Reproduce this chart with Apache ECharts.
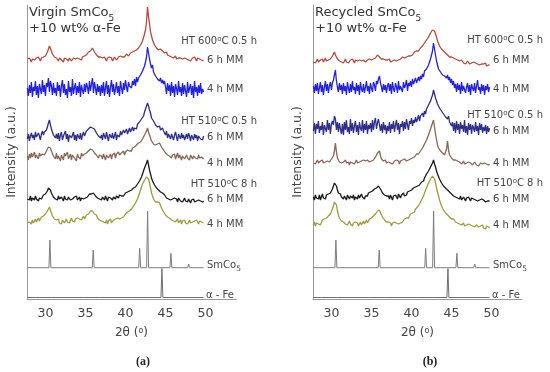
<!DOCTYPE html>
<html><head><meta charset="utf-8">
<script src="https://cdn.jsdelivr.net/npm/echarts@6/dist/echarts.min.js"></script>
<style>html,body{margin:0;padding:0;background:#fff}#c{width:550px;height:372px}</style>
</head><body><div id="c"></div><script>
// 2theta sampling positions (degrees)
const twoTheta = [
27.75,27.875,28,28.125,28.25,28.375,28.5,28.625,28.75,28.875,29,29.125,29.25,29.375,29.5,29.625,29.75,29.875,30,30.125,
30.25,30.375,30.5,30.625,30.75,30.875,31,31.125,31.25,
31.375,31.5,31.625,31.75,31.875,32,32.125,32.25,32.375,32.5,32.625,32.75,32.875,33,33.125,33.25,33.375,33.5,33.625,33.75,33.875,34,34.125,34.25,34.375,34.5,34.625,34.75,34.875,
35,35.125,35.25,35.375,35.5,35.625,35.75,35.875,36,36.125,36.25,36.375,36.5,36.625,36.75,36.875,37,
37.125,37.25,37.375,37.5,37.625,37.75,37.875,38,38.125,38.25,38.375,38.5,38.625,38.75,38.875,39,39.125,39.25,39.375,39.5,39.625,39.75,39.875,40,40.125,40.25,40.375,40.5,40.625,
40.75,40.875,41,41.125,41.25,41.375,41.5,41.625,41.75,41.875,42,42.125,42.25,42.375,42.5,42.625,42.75,42.875,43,43.125,43.25,43.375,43.5,43.625,43.75,43.875,44,44.125,44.25,44.375,44.5,44.625,44.75,
44.875,45,45.125,45.25,45.375,45.5,45.625,45.75,45.875,46,46.125,46.25,46.375,46.5,46.625,46.75,46.875,47,47.125,47.25,47.375,47.5,47.625,47.75,47.875,48,48.125,48.25,48.375,48.5,48.625,48.75,48.875,49,49.125,49.25,49.375,49.5,49.625,49.75];
const xTicks = [30, 35, 40, 45, 50];

// Panel (a) Virgin SmCo5 + 10 wt% a-Fe : intensity (a.u.) above each pattern's own baseline
const virginHT600_6h = [
1,-1,2,0,-2,1,3,0,-1,2,0,3,1,-1,2,4,3,5,4,6,
8,11,14,12,9,6,4,3,1,
2,0,-1,2,3,0,1,-2,2,0,1,3,-1,2,1,-1,0,2,3,1,-1,2,4,1,2,0,3,2,4,
3,5,6,8,7,9,11,12,10,8,7,5,4,3,2,3,1,
2,0,3,1,-1,2,0,3,1,2,-1,1,3,2,0,1,3,2,4,2,3,5,3,4,6,5,4,6,7,
6,8,7,9,8,10,9,12,13,15,16,19,21,26,30,38,53,44,36,28,24,20,18,15,14,12,11,10,12,11,10,9,8,
7,6,8,5,6,4,5,3,4,2,3,4,1,3,2,0,2,3,1,-1,2,0,1,3,0,2,-1,1,2,0,3,1,-1,2,0,1,-1,0,1,-1];
const virginHT600_4h = [
2,-6,5,-3,8,-7,3,-1,9,-5,4,-8,6,1,-4,10,-2,5,-6,7,
3,12,-2,9,4,-5,7,-3,2,
-6,8,-1,5,-7,4,10,-3,6,-5,1,-8,9,-2,3,-6,11,-4,2,7,-5,4,-3,8,-7,5,0,-4,6,
-2,7,3,-4,9,-1,6,12,-3,8,2,-5,6,-2,4,-6,5,
-3,8,-6,2,9,-4,5,-7,3,10,-2,6,-5,1,8,-3,4,-6,9,2,-4,7,0,10,3,-2,8,4,6,
2,9,5,11,4,13,8,12,10,15,14,19,17,24,28,33,43,37,31,26,22,25,18,20,14,16,11,13,9,12,7,10,6,
9,3,-4,7,-1,5,-6,8,-3,4,-7,6,1,-5,9,-2,3,-6,7,-4,5,-1,-7,8,-3,2,6,-5,4,-8,9,-2,3,-6,5,-3,7,-4,1,-2];
const virginHT510s_6h = [
-2,3,-4,1,4,-1,2,-3,5,0,-2,4,1,-3,3,6,2,5,3,7,
10,14,17,12,8,5,2,4,-1,
3,-2,4,-4,2,5,-3,1,-1,6,-2,3,-5,2,4,-1,0,5,-3,2,-4,3,1,-2,4,-3,2,5,1,
3,6,4,8,7,10,12,9,11,8,6,4,5,1,3,-1,2,
-3,4,1,-2,5,0,-4,3,2,-1,4,-2,1,5,-3,2,4,0,6,2,3,7,4,5,8,3,6,9,5,
7,10,6,9,11,8,13,12,15,14,18,17,21,25,28,30,34,31,27,24,19,20,16,15,12,13,10,9,11,7,8,9,6,
5,2,6,-1,3,4,-2,3,1,-3,2,5,0,-4,3,1,-2,4,-1,2,-3,0,3,-2,4,1,-4,2,0,-3,3,-1,2,-4,1,3,-2,0,-3,1];
const virginHT510s_4h = [
1,-3,3,-1,4,0,-2,5,-1,2,3,-2,4,1,-1,3,5,2,4,6,
7,10,12,9,6,4,1,3,-2,
4,-2,1,3,-4,2,0,-3,4,1,-1,5,-2,0,3,-3,2,4,-1,1,-4,3,0,2,-2,4,1,-1,3,
1,4,3,6,5,8,9,7,6,4,5,2,3,-1,2,4,1,
-2,3,0,-3,2,4,-1,1,3,-2,2,0,4,-1,3,1,5,2,0,4,3,6,2,5,4,7,5,6,8,
6,9,7,10,8,12,11,14,13,15,16,18,20,22,24,26,29,25,22,19,16,15,13,14,12,11,13,15,14,12,10,8,7,
6,4,5,2,4,1,3,-1,2,0,3,-2,1,4,-1,2,0,-3,1,3,-2,0,2,-1,1,-3,2,0,-2,1,3,-1,0,-2,2,-1,-3,0,1,-2];
const virginHT510l_6h = [
0,2,-1,3,-2,1,2,-1,3,0,2,-2,1,3,0,2,4,3,5,6,
8,11,12,9,6,4,2,3,0,
2,-1,3,0,-2,2,1,-2,3,0,1,-1,2,3,-1,1,0,-2,2,1,3,-1,0,2,-2,1,3,0,2,
1,3,2,4,5,6,5,7,6,4,3,2,1,3,0,2,-1,
2,0,-1,3,1,-2,2,0,1,3,-1,2,1,0,3,2,1,4,2,3,5,3,4,6,5,7,6,8,7,
9,8,11,10,12,13,15,16,18,20,22,25,28,31,33,36,39,34,29,25,21,18,16,14,12,11,10,9,8,7,6,6,5,
4,3,1,2,0,2,-1,1,0,-2,1,-1,0,-3,1,-1,-2,0,-3,-1,1,-2,-1,-3,0,-2,-4,-1,-2,0,-3,-1,-2,-4,-1,-3,-2,0,-3,-2];
const virginHT510l_4h = [
0,-2,1,2,-1,3,0,2,4,1,3,5,2,4,6,5,7,6,9,10,
12,14,16,13,10,7,5,4,2,
3,1,4,0,2,-1,3,1,0,2,4,1,3,0,2,5,2,3,1,4,2,5,3,4,6,3,5,7,4,
6,8,7,9,10,12,11,12,10,9,7,8,5,4,3,5,2,
3,1,2,0,3,-1,2,1,4,0,2,3,1,4,2,5,3,4,6,5,7,6,8,9,8,11,10,12,13,
14,15,17,18,20,22,24,27,30,33,36,39,41,43,45,46,48,44,40,35,30,27,24,22,21,20,21,22,20,18,15,13,11,
10,8,9,6,7,5,6,3,5,2,4,1,3,4,0,2,3,-1,2,1,3,0,2,-1,1,3,0,2,1,-1,2,0,3,1,-1,2,0,1,-1,0];

// Panel (b) Recycled SmCo5 + 10 wt% a-Fe
const recycHT600_6h = [
0,2,-1,1,3,0,-1,2,1,3,0,2,4,1,3,2,4,3,5,6,
8,10,7,5,3,2,1,3,0,
2,-1,1,3,0,2,-1,1,2,0,3,1,-1,2,0,1,3,2,0,1,-1,2,3,0,1,2,0,3,1,
2,4,3,5,4,6,7,6,5,4,3,2,3,1,2,0,2,
1,3,0,2,1,-1,2,4,1,3,2,4,3,2,5,3,4,6,5,4,6,7,6,8,7,9,10,9,11,
12,11,13,14,15,16,17,19,20,22,23,25,27,29,30,32,34,31,28,25,21,19,16,14,13,12,11,10,9,8,7,6,5,
4,5,3,4,2,3,1,2,0,1,-1,2,0,-1,1,-2,0,1,-1,-2,0,-1,-3,0,-2,-1,-3,-2,0,-3,-1,-2,-4,-2,-3,-1,-4,-2,-3,-3];
const recycHT600_4h = [
3,-4,5,-2,6,-5,1,7,-3,4,-6,2,8,-2,5,-4,3,7,-1,6,
9,14,19,8,2,-3,6,-1,4,
-5,6,-2,3,-6,7,1,-4,5,-3,8,-1,2,-5,6,-2,4,-6,7,0,-3,5,-4,2,8,-2,3,-5,6,
1,-3,7,4,-2,8,5,10,13,6,2,-3,5,-1,4,-4,3,
6,-2,5,-5,7,0,-3,6,2,-4,8,-1,3,5,-3,7,1,4,9,-2,6,3,8,2,10,5,7,11,6,
9,12,8,13,10,15,12,18,16,20,19,24,26,30,34,38,46,40,34,28,24,20,22,17,19,14,16,13,15,11,14,9,12,
6,10,4,8,1,5,-3,6,-1,4,-5,7,-2,3,5,-4,2,6,-3,4,-6,5,1,-2,6,-4,3,9,-1,2,-5,5,-2,4,-6,3,-1,5,-3,2];
const recycHT510s_6h = [
-3,5,-6,4,-1,7,-5,2,-2,6,-7,3,1,-4,8,-2,5,-6,4,7,
3,12,9,-2,6,-4,5,-1,-6,
4,-7,6,-2,8,-4,1,-6,9,-3,5,-5,2,7,-4,3,-7,6,0,-3,8,-5,4,-2,7,-6,3,-1,5,
-4,8,-2,6,10,-1,5,9,7,-3,4,-5,6,-2,3,-6,2,
-3,6,-5,4,-1,7,-4,3,8,-2,5,-6,4,1,7,-3,6,-1,9,3,-2,7,4,10,2,8,5,11,6,
9,13,7,12,10,15,11,17,14,19,18,23,22,27,29,33,38,34,30,27,24,26,20,22,17,19,14,16,11,13,9,12,6,
8,2,6,-3,5,-5,7,-2,4,-6,6,-1,3,-4,8,-5,2,-7,5,-2,4,-6,3,0,-4,6,-3,2,-7,5,-2,4,-5,1,-3,3,-6,2,-4,0];
const recycHT510s_4h = [
0,2,-1,1,3,0,-1,2,1,3,0,2,1,-1,2,3,1,2,4,5,
7,12,20,11,5,3,1,2,0,
2,1,-1,3,0,2,1,-2,1,3,0,2,-1,1,3,0,2,1,-1,2,0,3,1,2,0,3,2,1,3,
2,4,3,5,6,8,10,11,12,7,4,3,2,1,3,0,2,
1,3,0,2,-1,1,2,0,3,1,2,-1,2,1,3,2,4,3,2,4,3,5,4,6,5,7,6,8,9,
10,9,11,12,14,15,17,19,21,23,25,28,31,34,37,40,43,36,29,23,18,15,13,12,11,10,9,8,9,14,22,13,8,
6,5,4,3,2,3,1,2,0,1,3,-1,0,2,-1,1,0,-2,1,-1,0,2,-2,0,1,-1,-2,0,-3,-1,0,-2,-1,-3,0,-2,-1,-3,-2,-1];
const recycHT510l_6h = [
1,-2,3,0,2,-1,3,-2,1,4,0,2,-1,3,1,4,2,5,7,9,
12,15,17,12,8,5,3,4,1,
3,-1,2,0,-2,3,1,-1,2,4,0,3,-2,1,2,-1,3,0,2,4,1,3,-1,2,4,2,5,3,6,
5,7,6,9,8,10,11,12,13,9,7,5,4,3,1,2,0,
2,-1,3,1,-2,2,0,3,1,-1,4,2,0,3,1,5,2,4,3,6,5,7,6,8,7,10,9,11,12,
12,14,13,15,16,18,17,20,22,24,25,27,29,31,33,35,38,34,31,27,24,22,19,17,15,13,12,11,10,9,8,7,6,
5,4,3,2,3,1,2,0,1,-1,2,-2,0,1,-1,-3,0,-2,1,-1,-3,0,-2,-1,-3,-2,0,-3,-1,-2,-4,-1,-3,-2,0,-4,-2,-3,-1,-3];
const recycHT510l_4h = [
0,3,-1,2,4,1,3,0,2,5,3,6,4,7,6,9,8,11,13,16,
19,23,25,20,14,10,7,6,4,
5,3,4,1,3,0,2,4,1,3,-1,2,0,3,1,2,-1,1,3,0,2,4,1,3,5,2,4,6,5,
7,6,9,8,11,12,14,13,15,12,10,8,7,5,4,3,2,
3,1,2,-1,2,0,3,1,2,4,1,3,2,4,3,5,6,5,7,8,7,9,11,10,12,14,13,16,17,
18,20,21,23,25,27,29,32,34,37,39,42,44,46,47,49,50,46,42,37,33,29,25,22,19,17,15,13,12,11,10,9,8,
7,6,5,6,4,3,4,2,3,1,2,0,1,2,-1,1,0,-2,1,-1,0,-2,-1,1,-2,-3,0,-1,-2,-3,-1,-2,0,-3,-2,-4,-1,-3,-2,-3];

// vertical stacking offsets (a.u.) of the six milled patterns, top to bottom
const stackOffsetA = [239, 209, 162, 142, 100, 76];
const stackOffsetB = [237, 210, 171, 136, 101, 74];

// Reference patterns
const smco5Pos = [30.56, 35.97, 41.77, 42.76, 45.67, 47.89];
const smco5Int = [27.7, 17.7, 19.4, 56.7, 14.4, 3.7];
const smco5Offset = 31.3;
const fePos = [28.9, 30.9, 32.8, 34.9, 36.9, 38.8, 40.9, 42.9, 44.55, 46.8, 48.8];
const feInt = [2, 2, 2, 2, 2, 2, 2, 2, 29, 2, 2];
const feOffset = 1.5;

const traceColors = ['#b8483a', '#2222dd', '#2e2e8c', '#8a6656', '#1a1a1a', '#a09c3a'];
const FONT = 'DejaVu Sans';

function stacked(vals, off) {
  const n = Math.min(vals.length, twoTheta.length);
  const out = [];
  for (let i = 0; i < n; i++) out.push([twoTheta[i], vals[i] + off]);
  return out;
}
function sticks(pos, h, base) {
  const w = 0.12;
  const pts = [[twoTheta[0], base]];
  pos.forEach((p, k) => { pts.push([p - w, base], [p, base + h[k]], [p + w, base]); });
  pts.push([twoTheta[twoTheta.length - 1], base]);
  return pts;
}

const panelA = [virginHT600_6h, virginHT600_4h, virginHT510s_6h, virginHT510s_4h, virginHT510l_6h, virginHT510l_4h];
const panelB = [recycHT600_6h, recycHT600_4h, recycHT510s_6h, recycHT510s_4h, recycHT510l_6h, recycHT510l_4h];

const series = [];
[[panelA, stackOffsetA], [panelB, stackOffsetB]].forEach(([arrs, offs], g) => {
  series.push({ type: 'line', xAxisIndex: g, yAxisIndex: g, data: sticks(fePos, feInt, feOffset), symbol: 'none', lineStyle: { color: '#6f6f6f', width: 1 }, animation: false, z: 2 });
  series.push({ type: 'line', xAxisIndex: g, yAxisIndex: g, data: sticks(smco5Pos, smco5Int, smco5Offset), symbol: 'none', lineStyle: { color: '#7d7d7d', width: 1 }, animation: false, z: 2 });
  for (let k = arrs.length - 1; k >= 0; k--) {
    series.push({ type: 'line', xAxisIndex: g, yAxisIndex: g, data: stacked(arrs[k], offs[k]), symbol: 'none', lineStyle: { color: traceColors[k], width: 1.3 }, animation: false, z: 3 });
  }
});

function axisX(g) {
  return {
    type: 'value', gridIndex: g, min: 27.7, max: 53.8,
    axisLine: { show: true, lineStyle: { color: '#9a9a9a', width: 1 } },
    axisTick: { show: false }, splitLine: { show: false },
    axisLabel: { customValues: xTicks, color: '#444', fontSize: 12.5, fontFamily: FONT, margin: 8 },
    name: '2θ ({s|o})', nameLocation: 'middle', nameGap: 28,
    nameTextStyle: { color: '#444', fontSize: 12, fontFamily: FONT, rich: { s: { fontSize: 8, fontFamily: FONT, color: '#444', verticalAlign: 'top' } } }
  };
}
function axisY(g) {
  return {
    type: 'value', gridIndex: g, min: 0, max: 294,
    axisLine: { show: true, lineStyle: { color: '#9a9a9a', width: 1 } },
    axisTick: { show: false }, axisLabel: { show: false }, splitLine: { show: false },
    name: 'Intensity (a.u.)', nameLocation: 'middle', nameGap: 9,
    nameTextStyle: { color: '#444', fontSize: 12.5, fontFamily: FONT }
  };
}

const supRich = { s: { fontSize: 7, fontFamily: FONT, fill: '#444', verticalAlign: 'top' } };
const subRich = { m: { fontSize: 13, fontFamily: FONT, fill: '#333', padding: [0, 0, 4, 0] }, b: { fontSize: 9, fontFamily: FONT, fill: '#333', verticalAlign: 'bottom' } };
const subRichS = { m: { fontSize: 10, fontFamily: FONT, fill: '#444', padding: [0, 0, 3, 0] }, b: { fontSize: 7.5, fontFamily: FONT, fill: '#444', verticalAlign: 'bottom' } };

function txt(x, y, text, opts) {
  return { type: 'text', x: x, y: y, z: 10, style: Object.assign({ text: text, fontSize: 10, fontFamily: FONT, fill: '#444', align: 'left', verticalAlign: 'middle' }, opts || {}) };
}

function panelTexts(dx, title, ys) {
  return [
    txt(29 + dx, 15, '{m|' + title + '}{b|5}', { rich: subRich }),
    txt(29 + dx, 29, '+10 wt% α-Fe', { fontSize: 13, fill: '#333' }),
    txt(257 + dx, ys[0], 'HT 600{s|o}C 0.5 h', { align: 'right', rich: supRich }),
    txt(207 + dx, ys[1], '6 h MM'),
    txt(207 + dx, ys[2], '4 h MM'),
    txt(257 + dx, ys[3], 'HT 510{s|o}C 0.5 h', { align: 'right', rich: supRich }),
    txt(207 + dx, ys[4], '6 h MM'),
    txt(207 + dx, ys[5], '4 h MM'),
    txt(257 + dx, ys[6], 'HT 510{s|o}C 8 h', { align: 'right', rich: supRich }),
    txt(207 + dx, ys[7], '6 h MM'),
    txt(207 + dx, ys[8], '4 h MM'),
    txt(207 + dx, ys[9], '{m|SmCo}{b|5}', { rich: subRichS }),
    txt(206 + dx, ys[10], 'α - Fe')
  ];
}

const graphic = [].concat(
  panelTexts(0, 'Virgin SmCo', [41, 60, 89, 121, 137, 163, 184, 199, 224, 267, 295]),
  panelTexts(286, 'Recycled SmCo', [40, 60, 89, 115, 131, 163, 183, 199, 225, 267, 295]),
  [
    { type: 'text', x: 143, y: 362, style: { text: '(a)', fontSize: 12, fontWeight: 'bold', fontFamily: 'Liberation Serif', fill: '#222', align: 'center', verticalAlign: 'middle' } },
    { type: 'text', x: 430, y: 362, style: { text: '(b)', fontSize: 12, fontWeight: 'bold', fontFamily: 'Liberation Serif', fill: '#222', align: 'center', verticalAlign: 'middle' } }
  ]
);

const chart = echarts.init(document.getElementById('c'), null, { renderer: 'canvas' });
chart.setOption({
  backgroundColor: '#ffffff',
  animation: false,
  textStyle: { fontFamily: FONT },
  grid: [
    { left: 27, top: 5, width: 209, height: 294 },
    { left: 313, top: 5, width: 209, height: 294 }
  ],
  xAxis: [axisX(0), axisX(1)],
  yAxis: [axisY(0), axisY(1)],
  series: series,
  graphic: graphic
});
</script></body></html>
